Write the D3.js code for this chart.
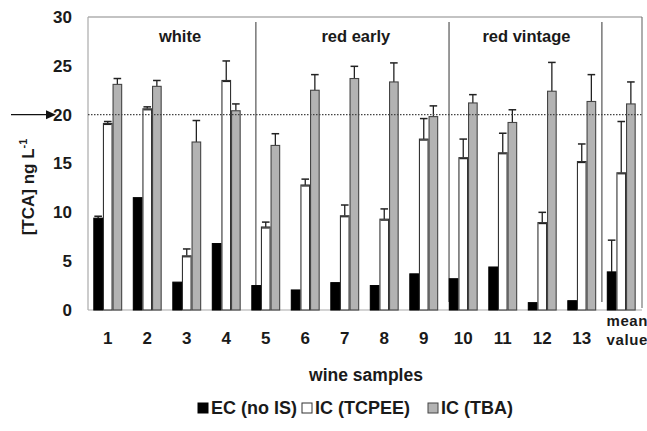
<!DOCTYPE html>
<html>
<head>
<meta charset="utf-8">
<script src="https://cdn.jsdelivr.net/npm/d3@7/dist/d3.min.js"></script>
<style>
  body { margin: 0; background: #fff; }
  svg { font-family: "Liberation Sans", Arial, sans-serif; font-weight: bold; }
</style>
</head>
<body>
<div id="chart"></div>
<script>
// TCA concentration in wine samples, three calibration approaches

const samples = ["1", "2", "3", "4", "5", "6", "7", "8", "9", "10", "11", "12", "13", "mean"];
const seriesNames = ["EC (no IS)", "IC (TCPEE)", "IC (TBA)"];

const ecValues   = [9.4, 11.5, 2.85, 6.8, 2.5, 2.05, 2.8, 2.5, 3.7, 3.2, 4.4, 0.75, 0.95, 3.9];
const ecErrors   = [0.2, 0, 0, 0, 0, 0, 0, 0, 0, 0, 0, 0, 0, 3.25];
const tcpeeValues = [19.1, 20.6, 5.55, 23.5, 8.5, 12.8, 9.65, 9.3, 17.5, 15.6, 16.1, 8.95, 15.2, 14.05];
const tcpeeErrors = [0.2, 0.2, 0.7, 2.0, 0.5, 0.6, 1.1, 1.05, 2.1, 1.9, 2.0, 1.05, 1.8, 5.25];
const tbaValues  = [23.1, 22.9, 17.2, 20.4, 16.85, 22.5, 23.7, 23.35, 19.8, 21.2, 19.2, 22.4, 21.35, 21.1];
const tbaErrors  = [0.6, 0.6, 2.2, 0.7, 1.2, 1.6, 1.25, 1.95, 1.1, 0.85, 1.3, 2.95, 2.75, 2.25];

const yTicks = [0, 5, 10, 15, 20, 25, 30];
const refValue = 20;

// wine groups: label, label position and separator position (in category units)
const groupLabels = ["white", "red early", "red vintage"];
const groupLabelPos = [2.33, 6.78, 11.1];
const separatorPos = [4.25, 9.14, 13.01];

const seriesData = [
  { name: seriesNames[0], values: ecValues, errors: ecErrors, fill: "#000", stroke: "#000" },
  { name: seriesNames[1], values: tcpeeValues, errors: tcpeeErrors, fill: "#fff", stroke: "#333" },
  { name: seriesNames[2], values: tbaValues, errors: tbaErrors, fill: "#b3b3b3", stroke: "#444" }
];

const W = 647, H = 431;
const plotL = 88, plotR = 641, plotT = 17, plotB = 310;

const svg = d3.select("#chart").append("svg")
  .attr("width", W).attr("height", H);

const x = d3.scaleBand()
  .domain(samples)
  .range([plotL, plotR])
  .paddingInner(0.27)
  .paddingOuter(0.135);

const xs = d3.scaleBand()
  .domain(seriesNames)
  .range([0, x.bandwidth()]);

const y = d3.scaleLinear().domain([0, 30]).range([plotB, plotT]);

// category units -> pixels
const pos = p => plotL + x.step() * p;

// frame
svg.append("line").attr("x1", plotL).attr("x2", plotR + 1).attr("y1", plotT).attr("y2", plotT)
  .attr("stroke", "#888").attr("stroke-width", 1.2);
svg.append("line").attr("x1", plotR + 1).attr("x2", plotR + 1).attr("y1", plotT).attr("y2", plotB - 2)
  .attr("stroke", "#777").attr("stroke-width", 1.2);
svg.append("line").attr("x1", plotL).attr("x2", plotL).attr("y1", plotT).attr("y2", plotB)
  .attr("stroke", "#aaa").attr("stroke-width", 1.2);
svg.append("line").attr("x1", plotL).attr("x2", plotR + 1).attr("y1", plotB).attr("y2", plotB)
  .attr("stroke", "#aaa").attr("stroke-width", 1.2);

// group separators
svg.selectAll("line.sep")
  .data(separatorPos)
  .enter().append("line")
  .attr("class", "sep")
  .attr("x1", d => pos(d)).attr("x2", d => pos(d))
  .attr("y1", 22).attr("y2", 302)
  .attr("stroke", "#555").attr("stroke-width", 1.2);

// group labels
svg.selectAll("text.group")
  .data(groupLabels)
  .enter().append("text")
  .attr("class", "group")
  .attr("x", (d, i) => pos(groupLabelPos[i]))
  .attr("y", 42)
  .attr("text-anchor", "middle")
  .style("font-size", "16.5px")
  .style("fill", "#1a1a1a")
  .text(d => d);

// error bars (upward whiskers with caps)
const errG = svg.append("g");
seriesData.forEach(s => {
  samples.forEach((c, i) => {
    if (!s.errors[i]) return;
    const cx = x(c) + xs(s.name) + xs.bandwidth() / 2;
    const y0 = y(s.values[i]), y1 = y(s.values[i] + s.errors[i]);
    errG.append("line").attr("x1", cx).attr("x2", cx).attr("y1", y0).attr("y2", y1)
      .attr("stroke", "#222").attr("stroke-width", 1.3);
    errG.append("line").attr("x1", cx - 3.8).attr("x2", cx + 3.8).attr("y1", y1).attr("y2", y1)
      .attr("stroke", "#222").attr("stroke-width", 1.5);
  });
});

// bars
seriesData.forEach(s => {
  svg.append("g").selectAll("rect")
    .data(samples)
    .enter().append("rect")
    .attr("x", c => x(c) + xs(s.name) + 0.5)
    .attr("y", (c, i) => y(s.values[i]))
    .attr("width", xs.bandwidth() - 1)
    .attr("height", (c, i) => plotB - y(s.values[i]))
    .attr("fill", s.fill)
    .attr("stroke", s.stroke)
    .attr("stroke-width", 1.1);
});

// lower caps on the white bars
const capG = svg.append("g");
samples.forEach((c, i) => {
  const s = seriesData[1];
  const cx = x(c) + xs(s.name) + xs.bandwidth() / 2;
  const y0 = y(s.values[i]);
  capG.append("line").attr("x1", cx - 3.8).attr("x2", cx + 3.8).attr("y1", y0 + 1).attr("y2", y0 + 1)
    .attr("stroke", "#222").attr("stroke-width", 1.2);
});

// reference line at 20
svg.append("line")
  .attr("x1", plotL).attr("x2", plotR + 1)
  .attr("y1", y(refValue)).attr("y2", y(refValue))
  .attr("stroke", "#444").attr("stroke-width", 1.2)
  .attr("stroke-dasharray", "1.5,1.5");

// arrow pointing at 20
svg.append("line").attr("x1", 11).attr("x2", 48).attr("y1", y(refValue)).attr("y2", y(refValue))
  .attr("stroke", "#111").attr("stroke-width", 1.4);
svg.append("path")
  .attr("d", `M46,${y(refValue) - 4.5} L56,${y(refValue)} L46,${y(refValue) + 4.5} Z`)
  .attr("fill", "#111");

// y axis labels
const yAxis = svg.append("g")
  .attr("transform", `translate(${plotL},0)`)
  .call(d3.axisLeft(y).tickValues(yTicks).tickSize(0).tickPadding(16));
yAxis.select(".domain").remove();
yAxis.selectAll("text")
  .style("font-size", "17px")
  .style("font-family", "Liberation Sans, Arial, sans-serif")
  .style("font-weight", "bold")
  .style("fill", "#1a1a1a");

// x axis labels
const xAxis = svg.append("g")
  .attr("transform", `translate(0,${plotB})`)
  .call(d3.axisBottom(x).tickValues(samples.slice(0, 13)).tickSize(0).tickPadding(22));
xAxis.select(".domain").remove();
xAxis.selectAll("text")
  .style("font-size", "17px")
  .style("font-family", "Liberation Sans, Arial, sans-serif")
  .style("font-weight", "bold")
  .style("fill", "#1a1a1a");

const meanX = x("mean") + x.bandwidth() / 2 + 6;
svg.append("text").attr("x", meanX).attr("y", 326).attr("text-anchor", "middle")
  .style("font-size", "15px").style("letter-spacing", "0.6px").style("fill", "#1a1a1a").text("mean");
svg.append("text").attr("x", meanX).attr("y", 345).attr("text-anchor", "middle")
  .style("font-size", "15px").style("letter-spacing", "0.6px").style("fill", "#1a1a1a").text("value");

// axis titles
svg.append("text")
  .attr("x", 366).attr("y", 381)
  .attr("text-anchor", "middle")
  .style("font-size", "17.5px")
  .style("fill", "#1a1a1a")
  .text("wine samples");

const yTitle = svg.append("text")
  .attr("transform", `translate(34,187) rotate(-90)`)
  .attr("text-anchor", "middle")
  .style("font-size", "17px")
  .style("fill", "#1a1a1a");
yTitle.append("tspan").text("[TCA] ng L");
yTitle.append("tspan").attr("dy", -7).style("font-size", "11px").text("-1");

// legend
const legendX = [198, 302, 428];
const legend = svg.append("g");
seriesData.forEach((s, i) => {
  legend.append("rect")
    .attr("x", legendX[i]).attr("y", 403)
    .attr("width", 10).attr("height", 10)
    .attr("fill", s.fill).attr("stroke", s.stroke).attr("stroke-width", 1);
  legend.append("text")
    .attr("x", legendX[i] + 13).attr("y", 414)
    .style("font-size", "18px")
    .style("fill", "#1a1a1a")
    .text(s.name);
});
</script>
</body>
</html>
